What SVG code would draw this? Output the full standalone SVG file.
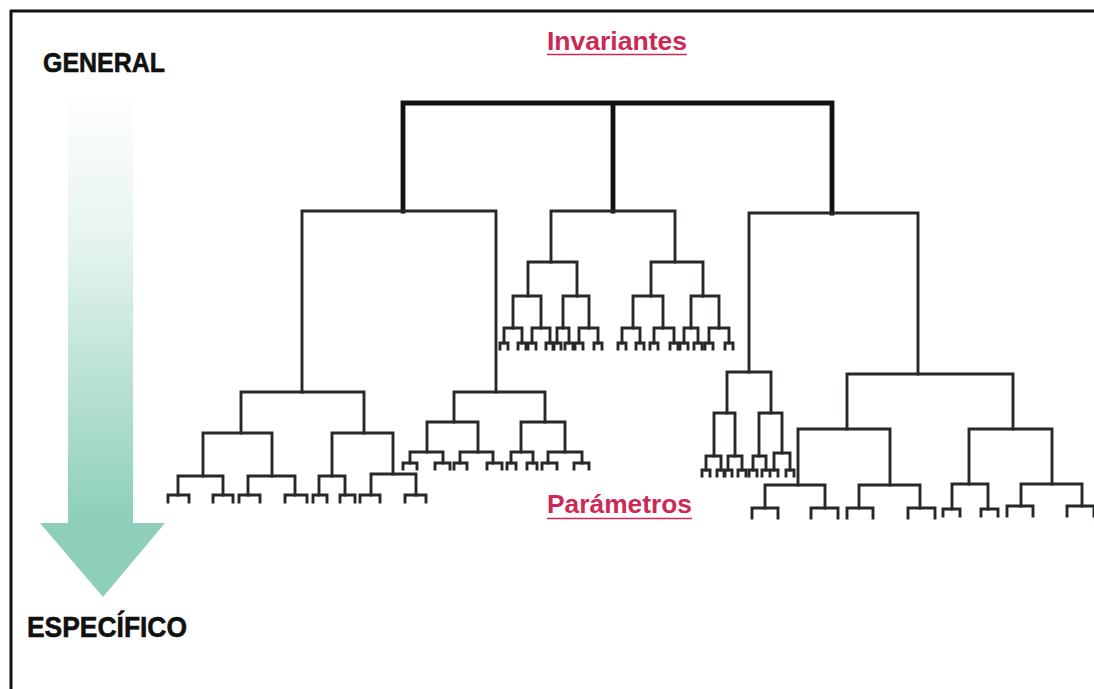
<svg xmlns="http://www.w3.org/2000/svg" width="1094" height="689" viewBox="0 0 1094 689">
<style>
.ln{fill:none;stroke:#26292b;stroke-width:2.9;stroke-linecap:square;stroke-linejoin:miter}
.rt{fill:none;stroke:#111;stroke-width:4.8;stroke-linecap:square}
.frame{stroke:#111;stroke-width:3}
.lbl{font-family:"Liberation Sans",Arial,sans-serif;font-weight:bold;fill:#111;stroke:#111;stroke-width:0.6}
.red{font-family:"Liberation Sans",Arial,sans-serif;font-weight:bold;fill:#cc2a56}
.ul{stroke:#cc2a56;stroke-width:1.6}
</style>
<defs>
<linearGradient id="g" gradientUnits="userSpaceOnUse" x1="0" y1="88" x2="0" y2="597">
<stop offset="0" stop-color="#ffffff"/>
<stop offset="0.3" stop-color="#e6f4ef"/>
<stop offset="0.85" stop-color="#8dcfbb"/>
<stop offset="1" stop-color="#8dcfbb"/>
</linearGradient>
</defs>
<rect width="1094" height="689" fill="#fff"/>
<g id="frame">
<line class="frame" x1="10" y1="11" x2="1094" y2="11"/>
<line class="frame" x1="11" y1="10" x2="11" y2="689"/>
</g>
<g id="arrow">
<path d="M68 88 H133 V523 H165 L103 597 L40 523 H68 Z" fill="url(#g)"/>
</g>
<g id="general"><text class="lbl" x="43" y="72" font-size="28" textLength="122" lengthAdjust="spacingAndGlyphs">GENERAL</text></g>
<g id="especifico"><text class="lbl" x="27" y="637" font-size="30" textLength="160" lengthAdjust="spacingAndGlyphs">ESPECÍFICO</text></g>
<g id="invariantes"><text class="red" x="547" y="50" font-size="25" textLength="140" lengthAdjust="spacingAndGlyphs">Invariantes</text><line class="ul" x1="547" y1="54.5" x2="687" y2="54.5"/></g>
<g id="parametros"><text class="red" x="547" y="513" font-size="25" textLength="145" lengthAdjust="spacingAndGlyphs">Parámetros</text><line class="ul" x1="547" y1="518.5" x2="692" y2="518.5"/></g>
<g id="connectors">
<g id="root">
<path class="rt" d="M403 211 V103 H832 V213 M613 103 V211"/>
</g>
<g id="subtree-left" class="ln">
<path d="M302 392 V211 H496 V392"/>
<path d="M241 433 V392 H364 V433"/>
<path d="M203 476 V433 H272 V476"/>
<path d="M178 495 V476 H223 V495"/>
<path d="M168 502 V495 H189 V502 M213 502 V495 H233 V502"/>
<path d="M248 495 V476 H295 V495"/>
<path d="M239 502 V495 H260 V502 M285 502 V495 H307 V502"/>
<path d="M332 476 V433 H393 V474"/>
<path d="M319 495 V476 H345 V495"/>
<path d="M313 502 V495 H327 V502 M340 502 V495 H355 V502"/>
<path d="M371 495 V474 H416 V495"/>
<path d="M360 502 V495 H380 V502 M405 502 V495 H426 V502"/>
<path d="M454 422 V392 H545 V422"/>
<path d="M427 452 V422 H478 V452"/>
<path d="M410 463 V452 H443 V463"/>
<path d="M403 469 V463 H417 V469 M435 469 V463 H450 V469"/>
<path d="M460 463 V452 H493 V463"/>
<path d="M454 469 V463 H467 V469 M487 469 V463 H502 V469"/>
<path d="M521 452 V422 H565 V452"/>
<path d="M511 463 V452 H533 V463"/>
<path d="M507 469 V463 H516 V469 M527 469 V463 H537 V469"/>
<path d="M548 463 V452 H582 V463"/>
<path d="M542 469 V463 H557 V469 M574 469 V463 H589 V469"/>
</g>
<g id="subtree-middle" class="ln">
<path d="M551 262 V211 H675 V262"/>
<path d="M528 296 V262 H577 V296"/>
<path d="M513 328 V296 H541 V328"/>
<path d="M504 343 V328 H522 V343 M532 343 V328 H550 V343"/>
<path d="M563 328 V296 H589 V328"/>
<path d="M557 343 V328 H569 V343 M579 343 V328 H598 V343"/>
<path d="M500 349 V343 H508 V349 M518 349 V343 H526 V349 M528 349 V343 H536 V349 M546 349 V343 H554 V349"/>
<path d="M553 349 V343 H561 V349 M565 349 V343 H573 V349 M575 349 V343 H583 V349 M594 349 V343 H602 V349"/>
<path d="M651 262 V296 M651 262 H703 V296"/>
<path d="M633 328 V296 H663 V328"/>
<path d="M622 343 V328 H640 V343 M654 343 V328 H674 V343"/>
<path d="M691 328 V296 H719 V328"/>
<path d="M684 343 V328 H698 V343 M709 343 V328 H729 V343"/>
<path d="M618 349 V343 H626 V349 M636 349 V343 H644 V349 M650 349 V343 H658 V349 M670 349 V343 H678 V349"/>
<path d="M680 349 V343 H688 V349 M694 349 V343 H702 V349 M705 349 V343 H713 V349 M725 349 V343 H733 V349"/>
</g>
<g id="subtree-right" class="ln">
<path d="M749 372 V213 H918 V374"/>
<path d="M727 413 V372 H771 V413"/>
<path d="M714 456 V413 H735 V456"/>
<path d="M706 470 V456 H721 V470 M728 470 V456 H742 V470"/>
<path d="M702 476 V470 H710 V476 M717 476 V470 H725 V476 M724 476 V470 H732 V476 M738 476 V470 H746 V476"/>
<path d="M759 456 V413 H782 V453"/>
<path d="M753 470 V456 H766 V470 M774 470 V453 H790 V470"/>
<path d="M749 476 V470 H757 V476 M762 476 V470 H770 V476 M770 476 V470 H778 V476 M786 476 V470 H794 V476"/>
<path d="M847 429 V374 H1013 V429"/>
<path d="M798 485 V429 H890 V485"/>
<path d="M765 508 V485 H825 V508"/>
<path d="M752 518 V508 H778 V518 M811 518 V508 H838 V518"/>
<path d="M859 508 V485 H920 V508"/>
<path d="M847 518 V508 H873 V518 M908 518 V508 H935 V518"/>
<path d="M969 484 V429 H1052 V484"/>
<path d="M952 509 V484 H988 V509"/>
<path d="M943 516 V509 H960 V516 M981 516 V509 H998 V516"/>
<path d="M1021 506 V484 H1082 V506"/>
<path d="M1007 516 V506 H1033 V516 M1067 516 V506 H1094 V516"/>
</g>
</g>
</svg>
